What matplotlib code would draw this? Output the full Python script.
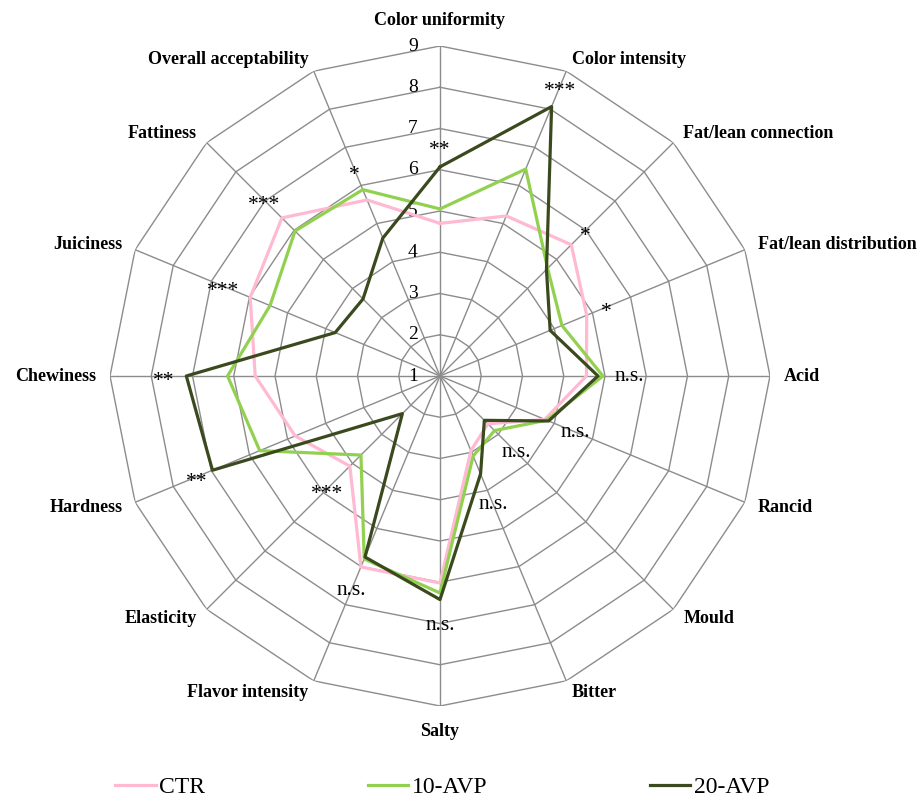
import numpy as np
import matplotlib
matplotlib.use("Agg")
import matplotlib.pyplot as plt

# Dane: oceny sensoryczne (skala 1-9)
categories = ["Color uniformity", "Color intensity", "Fat/lean connection",
              "Fat/lean distribution", "Acid", "Rancid", "Mould", "Bitter",
              "Salty", "Flavor intensity", "Elasticity", "Hardness",
              "Chewiness", "Juiciness", "Fattiness", "Overall acceptability"]
ctr = [4.7, 5.2, 5.5, 4.85, 4.55, 3.75, 2.64, 2.96, 6.02, 6.01, 4.09, 4.8, 5.48, 5.98, 6.42, 5.62]
avp10 = [5.05, 6.43, 4.69, 4.2, 4.95, 3.8, 2.87, 3.1, 6.26, 5.8, 3.71, 5.73, 6.15, 5.46, 5.97, 5.89]
avp20 = [6.07, 8.07, 4.65, 3.89, 4.83, 3.85, 2.52, 3.57, 6.42, 5.75, 2.29, 6.97, 7.15, 3.75, 3.64, 4.62]
significance = ["**", "***", "*", "*", "n.s.", "n.s.", "n.s.", "n.s.",
                "n.s.", "n.s.", "***", "**", "**", "***", "***", "*"]
sig_r = [6.59, 8.6, 5.98, 5.37, 5.58, 4.56, 3.61, 4.37, 7.05, 6.64, 4.87, 7.38, 7.7, 6.7, 7.04, 6.4]
levels = list(range(1, 10))

plt.rcParams["font.family"] = ["Liberation Serif", "DejaVu Serif"]

n = len(categories)
angles = np.arange(n) * 2 * np.pi / n
closed = np.append(angles, angles[0])

fig = plt.figure(figsize=(9.19, 8), dpi=100)
ax = fig.add_axes([110 / 919, 94 / 800, 660 / 919, 660 / 800], projection="polar")
ax.set_theta_zero_location("N")
ax.set_theta_direction(-1)
ax.set_ylim(levels[0], levels[-1])
ax.grid(False)
ax.set_xticks([])
ax.set_yticks([])
ax.spines["polar"].set_visible(False)

# Siatka wielokątna i promienie
grid_color = "#8c8c8c"
for lv in levels[1:]:
    ax.plot(closed, [lv] * (n + 1), color=grid_color, lw=1.0, zorder=1)
for a in angles:
    ax.plot([a, a], [levels[0], levels[-1]], color=grid_color, lw=1.0, zorder=1)

# Etykiety skali
for lv in levels:
    ax.annotate(str(lv), xy=(0, lv), xytext=(-16, 0), textcoords="offset points",
                ha="right", va="center", fontsize=14)

# Nazwy kategorii
for a, name in zip(angles, categories):
    s, c = np.sin(a), np.cos(a)
    ha = "center" if abs(s) < 0.2 else ("left" if s > 0 else "right")
    if abs(c) > 0.95:
        va = "bottom" if c > 0 else "top"
        dy = 12.5 * c
    else:
        va = "center"
        dy = 9 * c
    ax.annotate(name, xy=(a, levels[-1]), xytext=(10 * s, dy),
                textcoords="offset points", ha=ha, va=va,
                fontsize=13, fontweight="bold")

# Serie danych
series = [("CTR", ctr, "#FFB9D2"), ("10-AVP", avp10, "#92D050"), ("20-AVP", avp20, "#3A4A1E")]
for label, vals, col in series:
    ax.plot(closed, vals + vals[:1], color=col, lw=2.3, label=label, zorder=3)

# Istotność różnic
for a, s, r in zip(angles, significance, sig_r):
    dy = -4 if "*" in s else 0
    ax.annotate(s, xy=(a, r), xytext=(0, dy), textcoords="offset points",
                ha="center", va="center", fontsize=15.5, zorder=4)

fig.legend(loc="center", bbox_to_anchor=(0.4815, 0.016), ncol=3, frameon=False,
           fontsize=17, handlelength=1.7, handletextpad=0.15, columnspacing=6.9)

fig.savefig("out.png", dpi=100)
